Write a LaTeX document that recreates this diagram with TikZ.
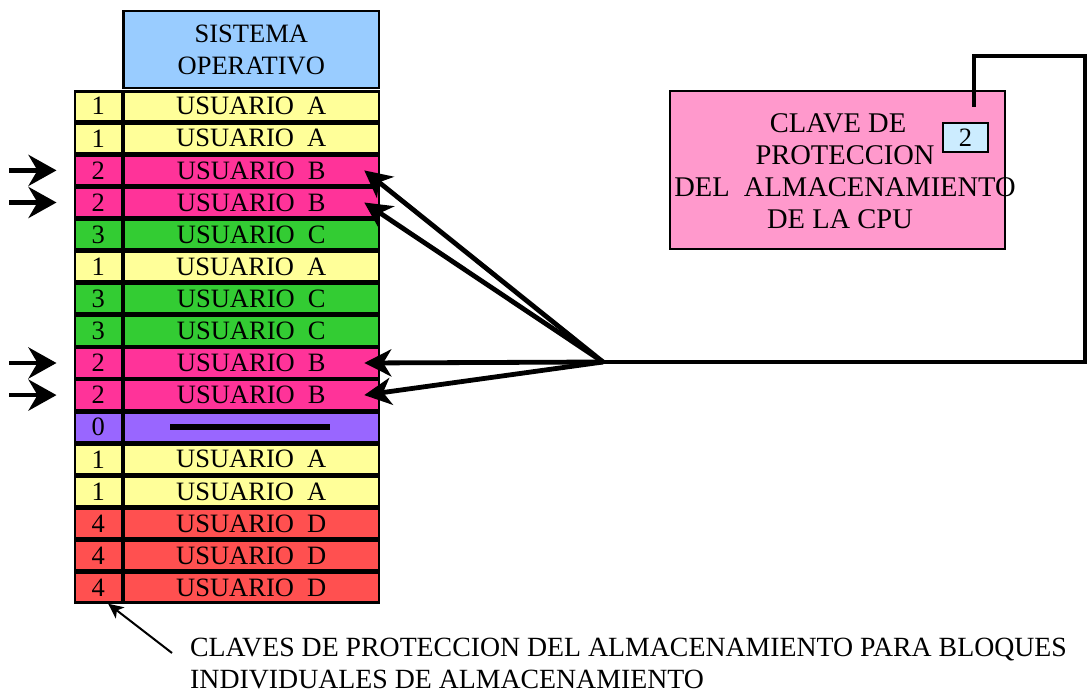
\documentclass[tikz,border=0pt]{standalone}
\usepackage{fontspec}
\setmainfont{Liberation Serif}
\usetikzlibrary{arrows.meta}
\definecolor{cA}{HTML}{FFFF99}
\definecolor{cB}{HTML}{FF3399}
\definecolor{cC}{HTML}{33CC33}
\definecolor{cD}{HTML}{FF5050}
\definecolor{cP}{HTML}{9966FF}
\definecolor{cSO}{HTML}{99CCFF}
\definecolor{cCPU}{HTML}{FF99CC}
\definecolor{cKey}{HTML}{CCECFF}
\begin{document}
\begin{tikzpicture}[x=1pt,y=-1pt,
  txt/.style={font=\fontsize{26.5}{32}\selectfont},
  keycell/.style={draw=black, line width=2.4pt, minimum width=47pt, minimum height=29.7pt, inner sep=0pt, txt},
  usercell/.style={draw=black, line width=2.4pt, minimum width=255.5pt, minimum height=29.7pt, inner sep=0pt, txt},
  bigarrow/.style={line width=4.8pt, -{Stealth[length=28pt,width=31pt,inset=9pt]}},
  thinarrow/.style={line width=2pt, -{Stealth[length=15pt,width=14pt,inset=4pt]}},
  wire/.style={line width=4.8pt, line cap=rect}
]
\useasboundingbox (0,0) rectangle (1088,692);

% header
\node[draw=black, line width=2.4pt, fill=cSO, minimum width=255.5pt, minimum height=77.5pt, inner sep=0pt, txt, align=center]
  (so) at (251.3,49.5) {SISTEMA\\OPERATIVO};

% memory rows
\foreach \k/\t/\c [count=\i from 0] in {
  1/USUARIO\ \ A/cA, 1/USUARIO\ \ A/cA, 2/USUARIO\ \ B/cB, 2/USUARIO\ \ B/cB,
  3/USUARIO\ \ C/cC, 1/USUARIO\ \ A/cA, 3/USUARIO\ \ C/cC, 3/USUARIO\ \ C/cC,
  2/USUARIO\ \ B/cB, 2/USUARIO\ \ B/cB, 0/{}/cP, 1/USUARIO\ \ A/cA,
  1/USUARIO\ \ A/cA, 4/USUARIO\ \ D/cD, 4/USUARIO\ \ D/cD, 4/USUARIO\ \ D/cD} {
  \node[keycell, fill=\c] (k\i) at (98.2, {106.2+32.1*\i}) {\k};
  \node[usercell, fill=\c] (u\i) at (251.3, {106.2+32.1*\i}) {\t};
}
\draw[line width=5.5pt] ([xshift=-81pt]u10.center) -- ([xshift=79pt]u10.center);

% left arrows
\foreach \i in {2,3,8,9} {
  \draw[bigarrow] ([xshift=-64.5pt]k\i.west) -- ([xshift=-17pt]k\i.west);
}

% CPU box
\node[draw=black, line width=2.2pt, fill=cCPU, minimum width=335pt, minimum height=158pt, inner sep=0pt]
  (cpu) at (837.5,170) {};
\node[align=center, font=\fontsize{28.5}{32}\selectfont, inner sep=0pt] (cputxt) at (845,171.5)
  {CLAVE DE\hspace*{14pt}\\PROTECCION\\DEL\ \ ALMACENAMIENTO\\DE LA CPU\hspace*{10pt}};
\node[draw=black, line width=2.2pt, fill=cKey, minimum width=45pt, minimum height=29pt, inner sep=0pt, txt]
  (key) at (965.5,137.5) {2};

% wire and converging arrows
\coordinate (hub) at (603,362);
\coordinate (wend) at (974,105);
\draw[wire] (hub) -- (1085,362) -- (1085,56) -- (974,56) -- (wend);
\foreach \i in {2,3,8,9} {
  \draw[bigarrow, -{Stealth[length=27pt,width=27pt,inset=8pt]}] (hub) -- ([xshift=-16pt]u\i.east);
}

% bottom caption
\node[anchor=base west, inner sep=0pt, font=\fontsize{27.8}{32}\selectfont] (botA) at (190,656)
  {CLAVES DE PROTECCION DEL ALMACENAMIENTO PARA BLOQUES};
\node[anchor=base west, inner sep=0pt, font=\fontsize{27.8}{32}\selectfont] (botB) at (190,688)
  {INDIVIDUALES DE ALMACENAMIENTO};
\coordinate (lt) at (172,653);
\draw[thinarrow] (lt) -- ([xshift=10pt]k15.south);
\end{tikzpicture}
\end{document}
